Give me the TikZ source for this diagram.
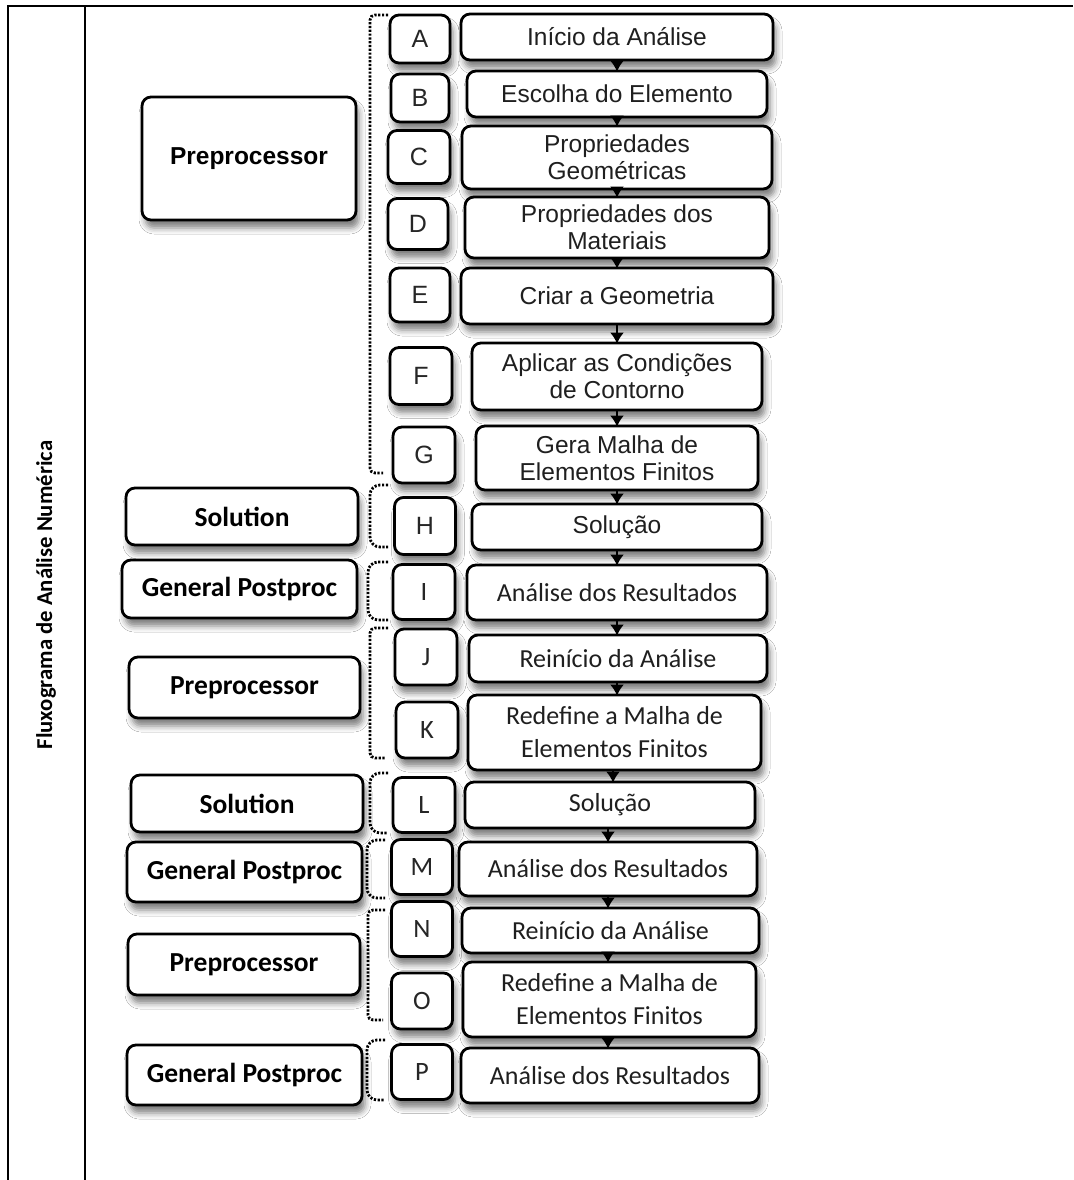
\documentclass[tikz,border=0pt]{standalone}
\usepackage{fontspec}
\setmainfont{Liberation Sans}
\newfontfamily\carl{Carlito}
\usetikzlibrary{arrows.meta,shadows.blur}
\tikzset{
  shad/.style={blur shadow={shadow xshift=3pt, shadow yshift=-8pt, shadow blur radius=6pt, shadow opacity=50}},
  box/.style={draw, line width=2.8pt, rounded corners=9pt, fill=white, align=center, inner sep=0pt, shad},
  ltr/.style={box, font=\fontsize{25}{28}\selectfont, text=black!85},
  ltrc/.style={box, font=\carl\fontsize{26.5}{30}\selectfont, text=black!85},
  mainA/.style={box, font=\fontsize{24.5}{27}\selectfont, text=black!88},
  mainC/.style={box, font=\carl\fontsize{26}{33}\selectfont, text=black!88},
  grpA/.style={box, font=\bfseries\fontsize{24.5}{28}\selectfont},
  grpC/.style={box, font=\carl\bfseries\fontsize{27.5}{30}\selectfont},
  arr/.style={line width=1.8pt, -{Latex[length=11pt,width=14pt]}, shorten >=-2pt},
  brk/.style={line width=2.8pt, dash pattern=on 2.2pt off 1.6pt},
}
\begin{document}
\begin{tikzpicture}[x=1pt,y=-1pt]
\useasboundingbox[fill=white] (0,0) rectangle (1073,1180);
% frame
\draw[line width=1.6pt] (8,1180) -- (8,6) -- (1073,6);
\draw[line width=1.6pt] (85,6) -- (85,1180);
\node[rotate=90, font=\carl\bfseries\fontsize{22.7}{26}\selectfont] (title) at (46,595) {Fluxograma de Análise Numérica};

% left group boxes
\node[grpA, minimum width=214pt, minimum height=123pt] (pre1) at (249,158.5) {Preprocessor};
\node[grpC, minimum width=232pt, minimum height=57pt] (sol1) at (242,516.5) {Solution};
\node[grpC, minimum width=235pt, minimum height=58pt] (gp1) at (239.5,589) {General Postproc};
\node[grpC, minimum width=231pt, minimum height=61pt] (pre2) at (244.5,687.5) {Preprocessor};
\node[grpC, minimum width=232pt, minimum height=57pt] (sol2) at (247,803.5) {Solution};
\node[grpC, minimum width=235pt, minimum height=60pt] (gp2) at (244.5,872) {General Postproc};
\node[grpC, minimum width=232pt, minimum height=61pt] (pre3) at (244,964.5) {Preprocessor};
\node[grpC, minimum width=235pt, minimum height=60pt] (gp3) at (244.5,1075) {General Postproc};

% letter boxes
\node[ltr, minimum width=60pt, minimum height=48pt] (lA) at (420,39) {A};
\node[ltr, minimum width=58pt, minimum height=48pt] (lB) at (420,98) {B};
\node[ltr, minimum width=62pt, minimum height=53pt] (lC) at (419,157) {C};
\node[ltr, minimum width=60pt, minimum height=51pt] (lD) at (418,224) {D};
\node[ltr, minimum width=60pt, minimum height=54pt] (lE) at (420,295) {E};
\node[ltr, minimum width=62pt, minimum height=57pt] (lF) at (421,376) {F};
\node[ltr, minimum width=62pt, minimum height=56pt] (lG) at (424,455) {G};
\node[ltr, minimum width=61pt, minimum height=57pt] (lH) at (425,526) {H};
\node[ltrc, minimum width=62pt, minimum height=55pt] (lI) at (424,592) {I};
\node[ltrc, minimum width=62pt, minimum height=56pt] (lJ) at (426,657) {J};
\node[ltrc, minimum width=62pt, minimum height=56pt] (lK) at (427,730) {K};
\node[ltrc, minimum width=62pt, minimum height=55pt] (lL) at (424,805) {L};
\node[ltrc, minimum width=61pt, minimum height=55pt] (lM) at (422,867) {M};
\node[ltrc, minimum width=61pt, minimum height=55pt] (lN) at (422,929) {N};
\node[ltrc, minimum width=61pt, minimum height=56pt] (lO) at (422,1001) {O};
\node[ltrc, minimum width=61pt, minimum height=55pt] (lP) at (422,1072) {P};

% main boxes
\node[mainA, minimum width=312pt, minimum height=46pt] (mA) at (617,37) {Início da Análise};
\node[mainA, minimum width=300pt, minimum height=46pt] (mB) at (617,94) {Escolha do Elemento};
\node[mainA, minimum width=310pt, minimum height=63pt] (mC) at (617,157.5) {Propriedades\\Geométricas};
\node[mainA, minimum width=304pt, minimum height=61pt] (mD) at (617,227.5) {Propriedades dos\\Materiais};
\node[mainA, minimum width=312pt, minimum height=56pt] (mE) at (617,296) {Criar a Geometria};
\node[mainA, minimum width=290pt, minimum height=67pt] (mF) at (617,376.5) {Aplicar as Condições\\de Contorno};
\node[mainA, minimum width=282pt, minimum height=64pt] (mG) at (617,458) {Gera Malha de\\Elementos Finitos};
\node[mainA, minimum width=290pt, minimum height=46pt] (mH) at (617,527) {Solução};
\node[mainC, minimum width=300pt, minimum height=55pt] (mI) at (617,592.5) {Análise dos Resultados};
\node[mainC, minimum width=298pt, minimum height=47pt] (mJ) at (618,658.5) {Reinício da Análise};
\node[mainC, minimum width=293pt, minimum height=75pt] (mK) at (614.5,732.5) {Redefine a Malha de\\Elementos Finitos};
\node[mainC, minimum width=290pt, minimum height=46pt] (mL) at (610,805) {Solução};
\node[mainC, minimum width=298pt, minimum height=54pt] (mM) at (608,869) {Análise dos Resultados};
\node[mainC, minimum width=297pt, minimum height=45pt] (mN) at (610.5,930.5) {Reinício da Análise};
\node[mainC, minimum width=293pt, minimum height=75pt] (mO) at (609.5,999.5) {Redefine a Malha de\\Elementos Finitos};
\node[mainC, minimum width=298pt, minimum height=55pt] (mP) at (610,1075.5) {Análise dos Resultados};

% arrow columns
\coordinate (x1) at (617,0);
\coordinate (x2) at (613,0);
\coordinate (x3) at (608,0);
\foreach \a/\b in {mA/mB,mB/mC,mC/mD,mD/mE,mE/mF,mF/mG,mG/mH,mH/mI,mI/mJ,mJ/mK}
  \draw[arr] (x1 |- \a.south) -- (x1 |- \b.north);
\draw[arr] (x2 |- mK.south) -- (x2 |- mL.north);
\foreach \a/\b in {mL/mM,mM/mN,mN/mO,mO/mP}
  \draw[arr] (x3 |- \a.south) -- (x3 |- \b.north);

% dotted brackets
\draw[brk, rounded corners=5pt] (388,15) -- (370,15) -- (370,473) -- (383,473);
\draw[brk, rounded corners=10pt] (388,485) -- (370,485) -- (370,547) -- (388,547);
\draw[brk, rounded corners=10pt] (388,562) -- (368,562) -- (368,620) -- (388,620);
\draw[brk, rounded corners=5pt] (388,628) -- (370,628) -- (370,758) -- (385,758);
\draw[brk, rounded corners=10pt] (388,773) -- (370,773) -- (370,833) -- (388,833);
\draw[brk, rounded corners=10pt] (385,840) -- (367,840) -- (367,898) -- (385,898);
\draw[brk, rounded corners=5pt] (385,910) -- (368,910) -- (368,1020) -- (383,1020);
\draw[brk, rounded corners=10pt] (385,1040) -- (367,1040) -- (367,1100) -- (385,1100);
\end{tikzpicture}
\end{document}
